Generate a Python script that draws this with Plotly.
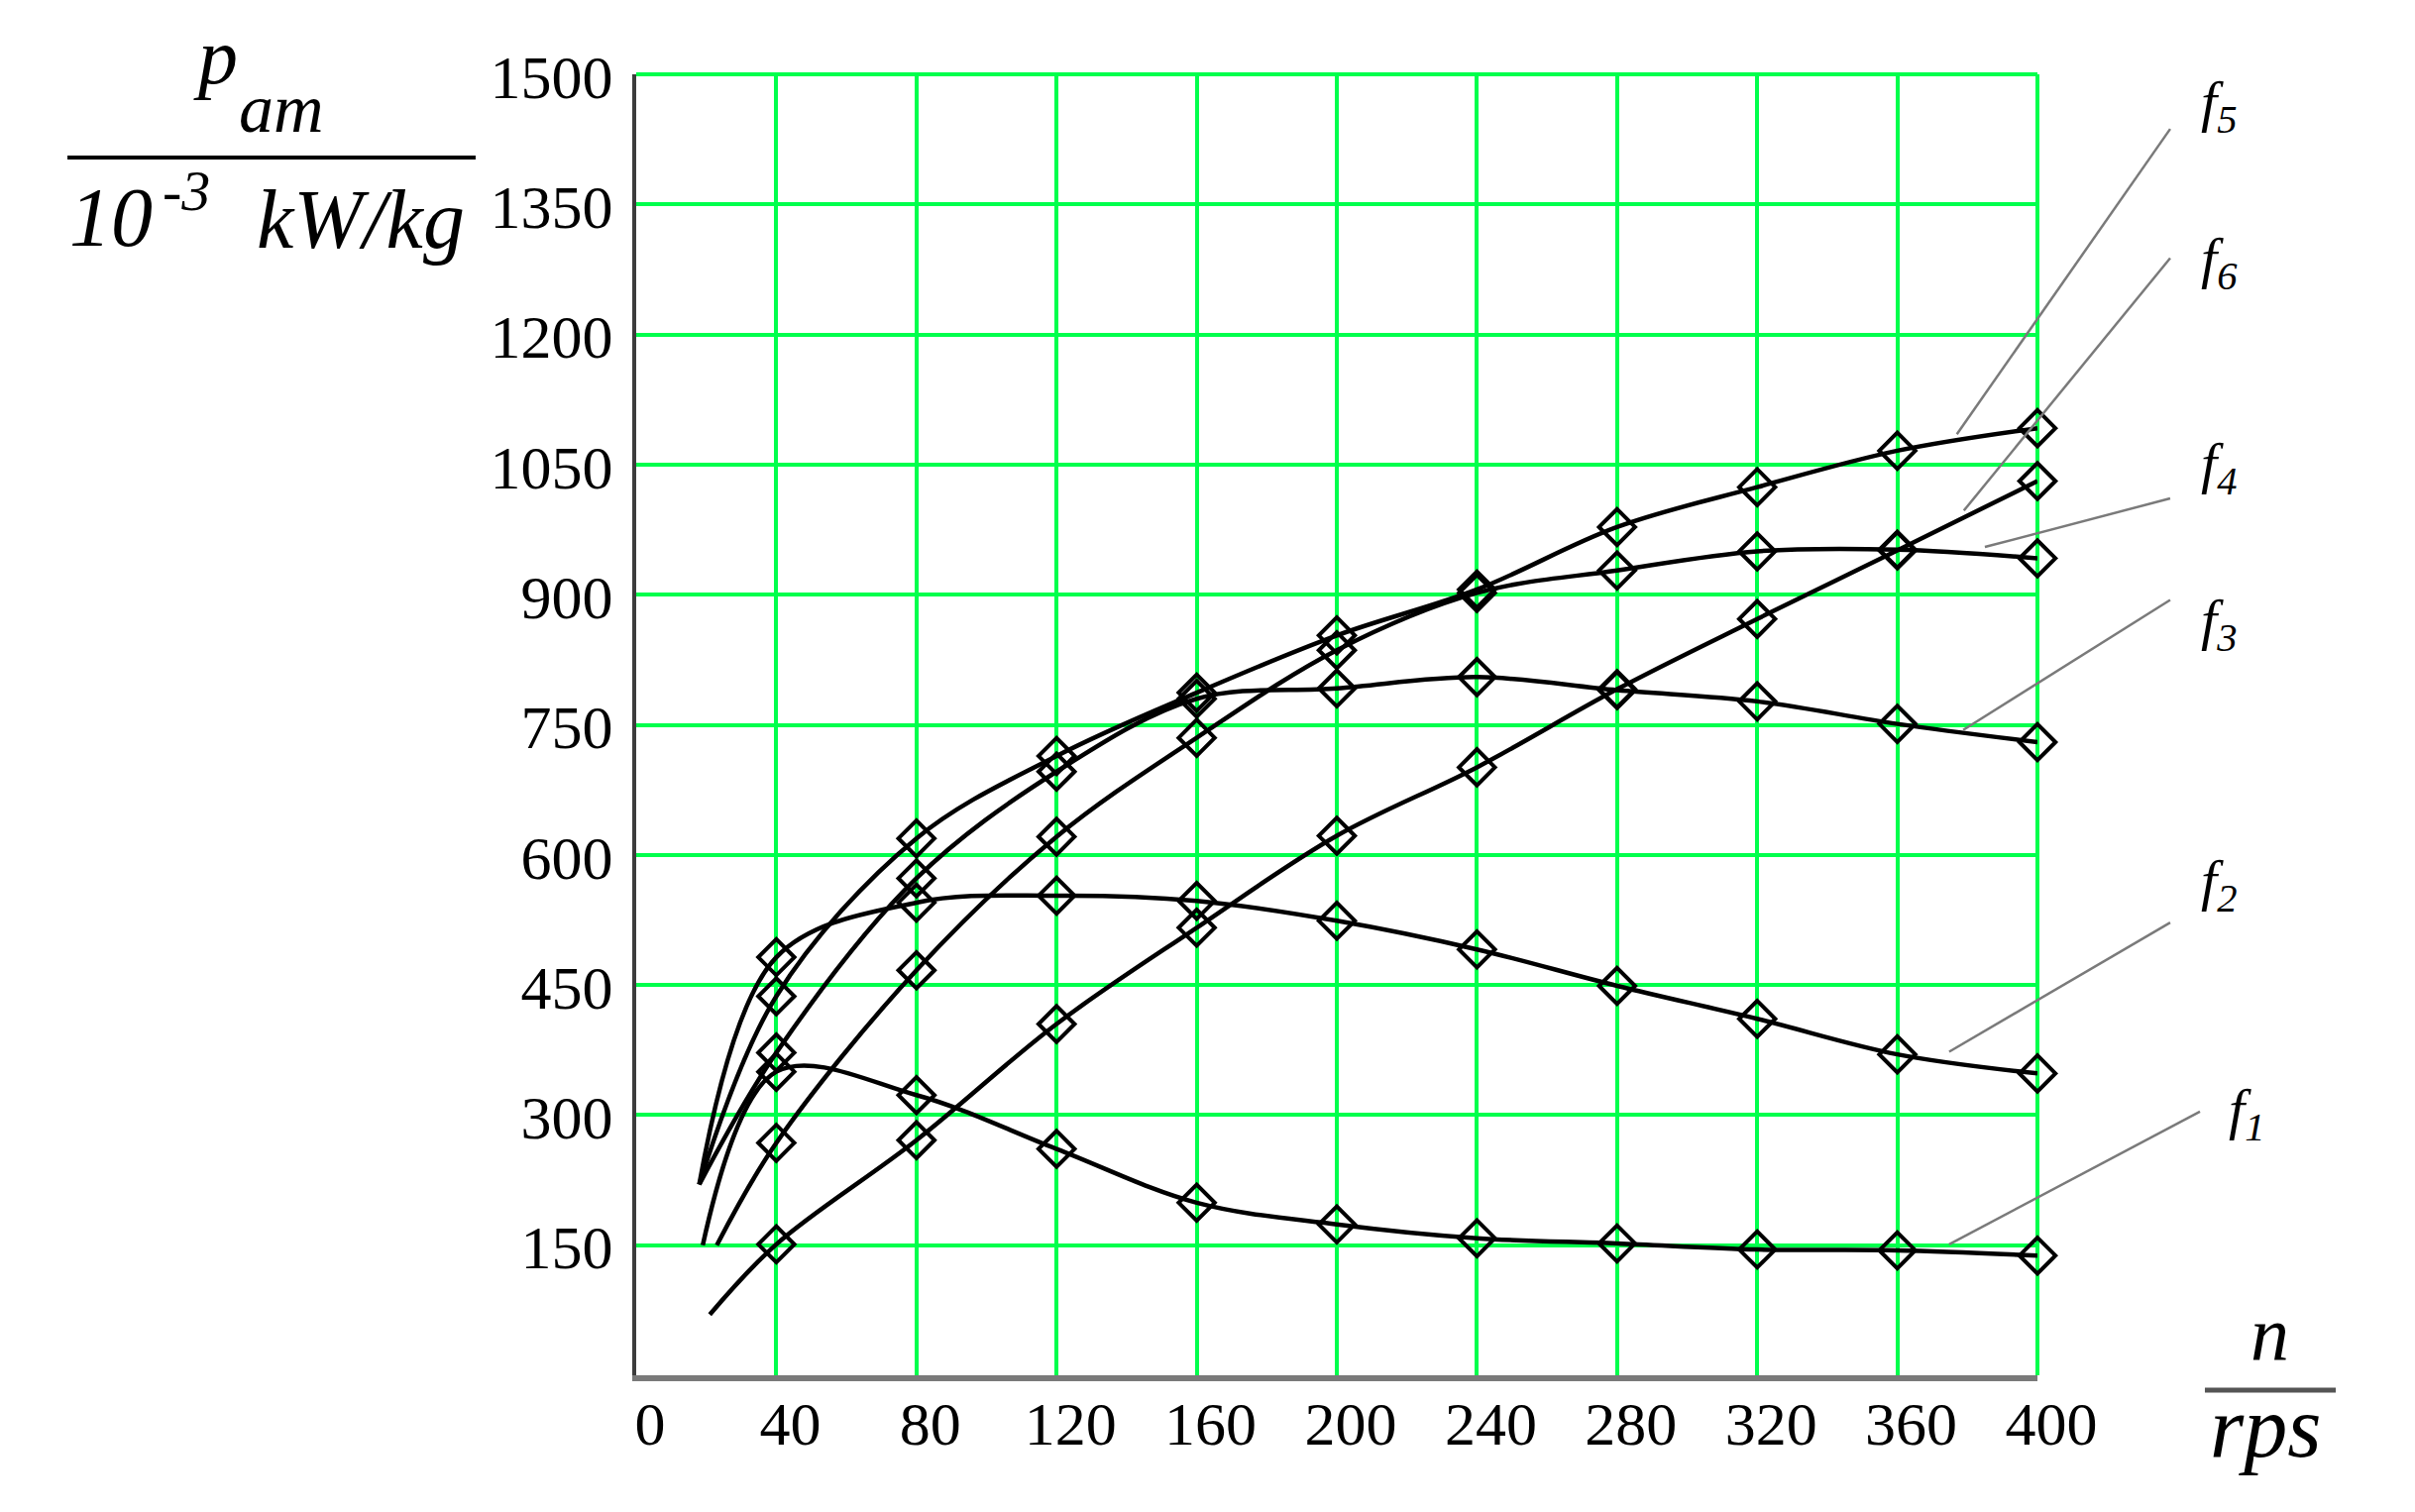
import plotly.graph_objects as go

# rotational speed, rps (measured points)
n_rps = [40, 80, 120, 160, 200, 240, 280, 320, 360, 400]

# specific power p_am, 10^-3 kW/kg
p_f1 = [350, 323, 261, 199, 174, 158, 152, 145, 144, 138]
p_f2 = [482, 545, 553, 547, 524, 491, 449, 411, 370, 348]
p_f3 = [372, 573, 696, 780, 792, 805, 790, 777, 751, 730]
p_f4 = [268, 467, 621, 735, 836, 902, 928, 950, 952, 942]
p_f5 = [437, 619, 714, 787, 853, 906, 978, 1024, 1066, 1092]
p_f6 = [151, 271, 405, 516, 622, 701, 791, 872, 951, 1031]

# the computed curves start a little before the first point
n_start = [19, 18, 18, 23, 18, 21]
p_start = [150, 220, 220, 150, 220, 70]

curve_names = ['1', '2', '3', '4', '5', '6']
curves = [p_f1, p_f2, p_f3, p_f4, p_f5, p_f6]

x_ticks = [0, 40, 80, 120, 160, 200, 240, 280, 320, 360, 400]
y_ticks = [150, 300, 450, 600, 750, 900, 1050, 1200, 1350, 1500]
X_MAX, Y_MAX = 400, 1500

GREEN = '#00ff4c'
SERIF = 'Liberation Serif, Times New Roman, serif'

fig = go.Figure()

for name, ys, n0, p0 in zip(curve_names, curves, n_start, p_start):
    fig.add_trace(go.Scatter(
        x=[n0] + n_rps, y=[p0] + ys,
        mode='lines',
        line=dict(color='black', width=4.5, shape='spline', smoothing=1),
        showlegend=False, hoverinfo='skip'
    ))
    fig.add_trace(go.Scatter(
        x=n_rps, y=ys,
        mode='markers', cliponaxis=False,
        marker=dict(symbol='diamond-open', size=28, color='black',
                    line=dict(color='black', width=4)),
        name='f' + name, showlegend=False
    ))

# top and right borders are green grid lines
fig.add_shape(type='line', xref='paper', yref='paper', x0=0, x1=1, y0=1, y1=1,
              line=dict(color=GREEN, width=4), layer='below')
fig.add_shape(type='line', xref='paper', yref='paper', x0=1, x1=1, y0=0, y1=1,
              line=dict(color=GREEN, width=4), layer='below')

# leader lines from curve labels to the curves (in axis units)
leaders = [
    # name, on-curve point, outer point, label point
    ('1', (374.8, 151), (446.4, 304), (459.7, 302)),
    ('2', (374.8, 373), (437.9, 522), (451.8, 566)),
    ('3', (378.8, 744), (437.9, 894), (451.8, 867)),
    ('4', (385.0, 955), (437.9, 1011), (451.8, 1047)),
    ('5', (377.0, 1085), (437.9, 1437), (451.8, 1464)),
    ('6', (379.0, 997), (437.9, 1288), (451.8, 1284)),
]
for name, (cx, cy), (ox, oy), (lx, ly) in leaders:
    fig.add_shape(
        type='line', xref='paper', yref='paper',
        x0=cx / X_MAX, y0=cy / Y_MAX, x1=ox / X_MAX, y1=oy / Y_MAX,
        line=dict(color='#7a7a7a', width=2.5)
    )
    fig.add_annotation(
        x=lx / X_MAX, y=ly / Y_MAX, xref='paper', yref='paper',
        text='<i>f<sub>' + name + '</sub></i>', showarrow=False,
        font=dict(family=SERIF, size=58, color='black'),
        xanchor='center', yanchor='middle'
    )

# y-axis title as a fraction
title_font = dict(family=SERIF, color='black')
fig.add_annotation(x=-0.2999, y=1.0137, xref='paper', yref='paper', text='<i>p</i>',
                   showarrow=False, font=dict(size=80, **title_font),
                   xanchor='center', yanchor='middle')
fig.add_annotation(x=-0.2532, y=0.9738, xref='paper', yref='paper', text='<i>am</i>',
                   showarrow=False, font=dict(size=70, **title_font),
                   xanchor='center', yanchor='middle')
fig.add_annotation(x=-0.4059, y=0.8899, xref='paper', yref='paper', text='<i>10</i>',
                   showarrow=False, font=dict(size=84, **title_font),
                   xanchor='left', yanchor='middle')
fig.add_annotation(x=-0.3395, y=0.9106, xref='paper', yref='paper', text='<i>-3</i>',
                   showarrow=False, font=dict(size=58, **title_font),
                   xanchor='left', yanchor='middle')
fig.add_annotation(x=-0.2723, y=0.8883, xref='paper', yref='paper', text='<i>kW/kg</i>',
                   showarrow=False, font=dict(size=84, **title_font),
                   xanchor='left', yanchor='middle')
fig.add_shape(type='line', xref='paper', yref='paper',
              x0=-0.4059, x1=-0.1146, y0=0.9360, y1=0.9360,
              line=dict(color='black', width=4))

# x-axis title as a fraction
fig.add_annotation(x=1.1655, y=0.0315, xref='paper', yref='paper', text='<i>n</i>',
                   showarrow=False, font=dict(size=78, **title_font),
                   xanchor='center', yanchor='middle')
fig.add_annotation(x=1.1627, y=-0.0398, xref='paper', yref='paper', text='<i>rps</i>',
                   showarrow=False, font=dict(size=88, **title_font),
                   xanchor='center', yanchor='middle')
fig.add_shape(type='line', xref='paper', yref='paper',
              x0=1.1195, x1=1.2129, y0=-0.0114, y1=-0.0114,
              line=dict(color='#555555', width=5))

fig.update_layout(
    width=2437, height=1526,
    margin=dict(l=642, r=381, t=75, b=138),
    plot_bgcolor='white', paper_bgcolor='white',
    font=dict(family=SERIF, color='black', size=60),
    xaxis=dict(
        range=[0, X_MAX], tickvals=x_ticks, ticktext=[str(v) for v in x_ticks],
        showgrid=True, gridcolor=GREEN, gridwidth=4, zeroline=False,
        showline=True, linecolor='#7a7a7a', linewidth=6,
        ticks='', tickfont=dict(family=SERIF, size=62, color='black'),
        ticklabelshift=14, ticklabelstandoff=-10
    ),
    yaxis=dict(
        range=[0, Y_MAX], tickvals=y_ticks, ticktext=[str(v) for v in y_ticks],
        showgrid=True, gridcolor=GREEN, gridwidth=4, zeroline=False,
        showline=True, linecolor='#3c3c3c', linewidth=4,
        ticks='', tickfont=dict(family=SERIF, size=62, color='black'),
        ticklabelshift=2, ticklabelstandoff=7
    ),
)

fig.write_html("out.html", config={'displayModeBar': False},
               post_script="document.body.style.margin='0';")
